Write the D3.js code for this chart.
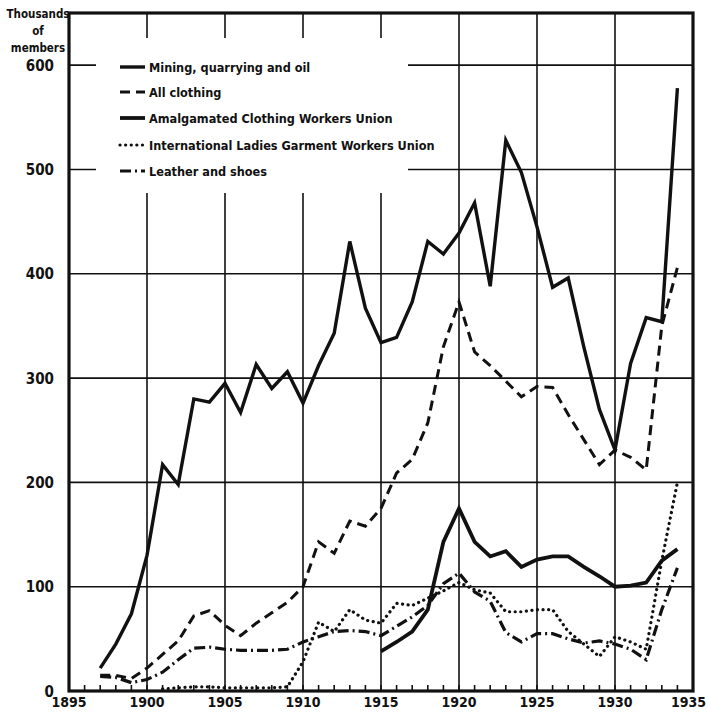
<!DOCTYPE html>
<html>
<head>
<meta charset="utf-8">
<script src="https://cdn.jsdelivr.net/npm/d3@7"></script>
<style>
  body { margin: 0; background: #fff; }
  svg text { font-family: "DejaVu Sans Condensed", "DejaVu Sans", sans-serif; font-weight: bold; fill: #111; }
</style>
</head>
<body>
<div id="chart"></div>
<script>
var years = d3.range(1897, 1935);

var mining   = [22, 45, 74, 130, 217, 198, 280, 277, 295, 267, 313, 290, 306, 276, 312, 343, 431, 367, 334, 339, 373, 431, 419, 439, 468, 388, 528, 497, 445, 387, 396, 330, 270, 231, 314, 358, 354, 578];
var clothing = [15, 15, 12, 22, 35, 48, 72, 77, 63, 53, 65, 75, 85, 100, 143, 132, 163, 158, 175, 209, 222, 257, 330, 373, 325, 312, 297, 282, 292, 291, 265, 241, 217, 231, 224, 212, 350, 406];
var acwu     = [null, null, null, null, null, null, null, null, null, null, null, null, null, null, null, null, null, null, 38, 47, 57, 78, 143, 175, 143, 129, 134, 119, 126, 129, 129, 119, 110, 100, 101, 104, 125, 136];
var ilgwu    = [null, null, null, null, 2, 3, 4, 4, 3, 3, 3, 3, 4, 28, 66, 57, 78, 68, 65, 84, 82, 89, 96, 104, 97, 94, 76, 76, 78, 78, 57, 45, 33, 52, 47, 40, 125, 200];
var leather  = [14, 13, 8, 11, 18, 30, 41, 42, 40, 39, 39, 39, 40, 47, 52, 57, 58, 57, 53, 62, 71, 82, 103, 113, 95, 86, 56, 47, 55, 55, 50, 46, 48, 45, 40, 30, 78, 118];

var seriesNames = ["Mining, quarrying and oil", "All clothing", "Amalgamated Clothing Workers Union", "International Ladies Garment Workers Union", "Leather and shoes"];
var yTicks = [0, 100, 200, 300, 400, 500, 600];
var xTicks = [1895, 1900, 1905, 1910, 1915, 1920, 1925, 1930, 1935];

var width = 708, height = 718;

var svg = d3.select("#chart").append("svg")
	.attr("width", width)
	.attr("height", height);

var x = d3.scaleLinear().domain([1895, 1935]).range([69, 693]);
var y = d3.scaleLinear().domain([0, 650]).range([691, 13]);

// grid
svg.append("g").selectAll("line.h")
	.data(yTicks.slice(1))
	.enter().append("line")
	.attr("x1", x(1895)).attr("x2", x(1935))
	.attr("y1", function(d) { return y(d); })
	.attr("y2", function(d) { return y(d); })
	.attr("stroke", "#111").attr("stroke-width", 1.6);

svg.append("g").selectAll("line.v")
	.data(xTicks.slice(1, -1))
	.enter().append("line")
	.attr("x1", function(d) { return x(d); })
	.attr("x2", function(d) { return x(d); })
	.attr("y1", y(650)).attr("y2", y(0))
	.attr("stroke", "#111").attr("stroke-width", 1.6);

// minor year ticks on bottom axis
svg.append("g").selectAll("line")
	.data(d3.range(1896, 1935))
	.enter().append("line")
	.attr("x1", function(d) { return x(d); })
	.attr("x2", function(d) { return x(d); })
	.attr("y1", y(0)).attr("y2", y(0) - 6)
	.attr("stroke", "#111").attr("stroke-width", 1.6);

// blank area behind the legend
svg.append("rect")
	.attr("x", 96).attr("y", 38)
	.attr("width", 312).attr("height", 155)
	.attr("fill", "#fff");

// frame
svg.append("rect")
	.attr("x", x(1895)).attr("y", y(650))
	.attr("width", x(1935) - x(1895))
	.attr("height", y(0) - y(650))
	.attr("fill", "none")
	.attr("stroke", "#111")
	.attr("stroke-width", 3.2);

var styles = [
	{ data: mining,   width: 3.4, dash: null },
	{ data: clothing, width: 3,   dash: "10,6" },
	{ data: acwu,     width: 3.8, dash: null },
	{ data: ilgwu,    width: 3.2, dash: "0.1,5.5", cap: "round" },
	{ data: leather,  width: 3.2, dash: "11,4,2,4" }
];

var line = d3.line()
	.defined(function(d) { return d != null; })
	.x(function(d, i) { return x(years[i]); })
	.y(function(d) { return y(d); });

svg.append("g").selectAll("path")
	.data(styles)
	.enter().append("path")
	.attr("d", function(s) { return line(s.data); })
	.attr("fill", "none")
	.attr("stroke", "#111")
	.attr("stroke-width", function(s) { return s.width; })
	.attr("stroke-dasharray", function(s) { return s.dash; })
	.attr("stroke-linecap", function(s) { return s.cap || "butt"; })
	.attr("stroke-linejoin", "miter");

// y labels
svg.append("g").selectAll("text")
	.data(yTicks)
	.enter().append("text")
	.attr("x", 54)
	.attr("y", function(d) { return y(d) + 5.5; })
	.attr("text-anchor", "end")
	.attr("font-size", 15)
	.text(function(d) { return d; });

// x labels (last one pulled in so it stays on the page)
svg.append("g").selectAll("text")
	.data(xTicks)
	.enter().append("text")
	.attr("x", function(d) { return d == 1935 ? width - 2 : x(d); })
	.attr("y", 707)
	.attr("text-anchor", function(d) { return d == 1935 ? "end" : "middle"; })
	.attr("font-size", 14)
	.text(function(d) { return d; });

// axis title
svg.append("text")
	.attr("x", 38).attr("y", 18)
	.attr("text-anchor", "middle")
	.attr("font-size", 11.5)
	.selectAll("tspan")
	.data(["Thousands", "of", "members"])
	.enter().append("tspan")
	.attr("x", 38)
	.attr("dy", function(d, i) { return i == 0 ? 0 : 17; })
	.text(function(d) { return d; });

// legend
var legendY = [67, 92, 118, 145, 171];
var legend = svg.append("g").selectAll("g")
	.data(styles)
	.enter().append("g")
	.attr("transform", function(d, i) { return "translate(120," + legendY[i] + ")"; });

legend.append("line")
	.attr("x1", 0).attr("x2", 25)
	.attr("stroke", "#111")
	.attr("stroke-width", function(s) { return s.width; })
	.attr("stroke-dasharray", function(s) { return s.dash; })
	.attr("stroke-linecap", function(s) { return s.cap || "butt"; });

legend.append("text")
	.attr("x", 29).attr("y", 4.5)
	.attr("font-size", 12.6)
	.text(function(d, i) { return seriesNames[i]; });
</script>
</body>
</html>
